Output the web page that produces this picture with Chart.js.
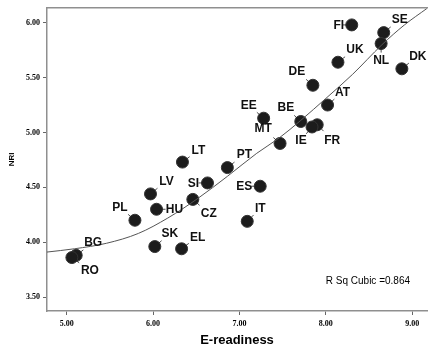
<!DOCTYPE html>
<html>
<head>
<meta charset="utf-8">
<script src="https://cdn.jsdelivr.net/npm/chart.js@4.4.1/dist/chart.umd.min.js"></script>
<style>
  html, body { margin: 0; padding: 0; background: #fff; }
  #wrap { width: 434px; height: 348px; }
</style>
</head>
<body>
<div id="wrap"><canvas id="chart" width="434" height="348"></canvas></div>
<script>
// country codes and their scores
const countries = ["FI", "SE", "NL", "UK", "DK", "DE", "AT", "BE", "FR", "IE", "EE", "MT", "PT", "SI", "ES", "IT", "LT", "LV", "CZ", "HU", "PL", "SK", "EL", "BG", "RO"];
const eReadiness = [8.30, 8.67, 8.64, 8.14, 8.88, 7.85, 8.02, 7.71, 7.90, 7.84, 7.28, 7.47, 6.86, 6.63, 7.24, 7.09, 6.34, 5.97, 6.46, 6.04, 5.79, 6.02, 6.33, 5.11, 5.06];
const nri = [5.98, 5.91, 5.81, 5.64, 5.58, 5.43, 5.25, 5.10, 5.07, 5.05, 5.13, 4.90, 4.68, 4.54, 4.51, 4.19, 4.73, 4.44, 4.39, 4.30, 4.20, 3.96, 3.94, 3.88, 3.86];

// cubic fit line
const fitX = [4.77, 5.09, 5.46, 5.83, 6.17, 6.52, 6.86, 7.20, 7.46, 7.71, 8.00, 8.31, 8.65, 8.91, 9.17];
const fitY = [3.91, 3.94, 3.99, 4.08, 4.22, 4.40, 4.60, 4.81, 4.95, 5.11, 5.31, 5.53, 5.80, 5.98, 6.13];

const xTicks = [5, 6, 7, 8, 9];
const yTicks = [3.5, 4.0, 4.5, 5.0, 5.5, 6.0];
const rSqText = "R Sq Cubic =0.864";

// where each label sits relative to its dot (px)
const labelOffset = {
  FI: [-13, 0], SE: [16, -13], NL: [0, 17], UK: [17, -13], DK: [16, -13],
  DE: [-16, -14], AT: [15, -13], BE: [-15, -14], FR: [15, 15], IE: [-11, 13],
  EE: [-15, -13], MT: [-17, -15], PT: [17, -13], SI: [-14, 0], ES: [-16, 0],
  IT: [13, -13], LT: [16, -12], LV: [16, -13], CZ: [16, 14], HU: [18, 0],
  PL: [-15, -13], SK: [15, -13], EL: [16, -12], BG: [17, -13], RO: [18, 13],
};

const tickFont = { family: "'Liberation Serif', 'DejaVu Serif', serif", size: 8, weight: "bold" };
const axisGray = "#8f8f8f";

const pointLabels = {
  id: "pointLabels",
  afterDatasetsDraw(chart) {
    const ctx = chart.ctx;
    const meta = chart.getDatasetMeta(1);
    ctx.save();
    ctx.font = "bold 12px 'Liberation Sans', Arial, sans-serif";
    ctx.textAlign = "center";
    ctx.textBaseline = "middle";
    meta.data.forEach((pt, i) => {
      const name = countries[i];
      const [dx, dy] = labelOffset[name];
      const len = Math.hypot(dx, dy);
      // short leader line from the dot toward its label
      ctx.strokeStyle = "#222";
      ctx.lineWidth = 0.8;
      ctx.beginPath();
      ctx.moveTo(pt.x + dx / len * 5, pt.y + dy / len * 5);
      ctx.lineTo(pt.x + dx / len * 9, pt.y + dy / len * 9);
      ctx.stroke();
      ctx.fillStyle = "#111";
      ctx.fillText(name, pt.x + dx, pt.y + dy + 0.5);
    });

    const area = chart.chartArea;
    ctx.font = "10px 'Liberation Sans', Arial, sans-serif";
    ctx.textAlign = "right";
    ctx.fillStyle = "#000";
    ctx.fillText(rSqText, area.right - 17, area.bottom - 30);

    // top frame line
    ctx.strokeStyle = axisGray;
    ctx.lineWidth = 1.5;
    ctx.beginPath();
    ctx.moveTo(area.left, area.top);
    ctx.lineTo(area.right + 1, area.top);
    ctx.stroke();
    ctx.restore();
  },
};

new Chart(document.getElementById("chart"), {
  type: "scatter",
  data: {
    datasets: [
      {
        type: "line",
        label: "Cubic",
        data: fitX.map((x, i) => ({ x, y: fitY[i] })),
        borderColor: "#555",
        borderWidth: 1,
        pointRadius: 0,
        fill: false,
        cubicInterpolationMode: "monotone",
      },
      {
        label: "Countries",
        data: eReadiness.map((x, i) => ({ x, y: nri[i] })),
        backgroundColor: "#1c1c1c",
        borderColor: "#333",
        borderWidth: 1,
        pointRadius: 6,
      },
    ],
  },
  options: {
    responsive: false,
    animation: false,
    layout: { padding: { top: 7, right: 1, left: 0, bottom: 0 } },
    plugins: { legend: { display: false }, tooltip: { enabled: false } },
    scales: {
      x: {
        type: "linear",
        min: 4.772,
        max: 9.171,
        afterBuildTicks: (s) => { s.ticks = xTicks.map((v) => ({ value: v })); },
        afterFit: (s) => { s.height = 37; },
        ticks: {
          autoSkip: false,
          maxRotation: 0,
          padding: 4,
          color: "#000",
          font: tickFont,
          callback: (v) => Number(v).toFixed(2),
        },
        grid: { drawOnChartArea: false, tickLength: 4, tickColor: "#666", tickWidth: 1 },
        border: { color: axisGray, width: 1.5 },
        title: {
          display: true,
          text: "E-readiness",
          color: "#000",
          font: { family: "'Liberation Sans', Arial, sans-serif", size: 13, weight: "bold", lineHeight: 1 },
          padding: { top: 0, bottom: 1 },
        },
      },
      y: {
        type: "linear",
        min: 3.373,
        max: 6.136,
        afterBuildTicks: (s) => { s.ticks = yTicks.map((v) => ({ value: v })); },
        afterFit: (s) => { s.width = 47; },
        ticks: {
          autoSkip: false,
          padding: 3,
          color: "#000",
          font: tickFont,
          callback: (v) => Number(v).toFixed(2),
        },
        grid: { drawOnChartArea: false, tickLength: 4, tickColor: "#666", tickWidth: 1 },
        border: { color: axisGray, width: 1.5 },
        title: {
          display: true,
          text: "NRI",
          color: "#000",
          font: { family: "'Liberation Sans', Arial, sans-serif", size: 8, weight: "bold", lineHeight: 1 },
          padding: { top: 8, bottom: 0 },
        },
      },
    },
  },
  plugins: [pointLabels],
});
</script>
</body>
</html>
